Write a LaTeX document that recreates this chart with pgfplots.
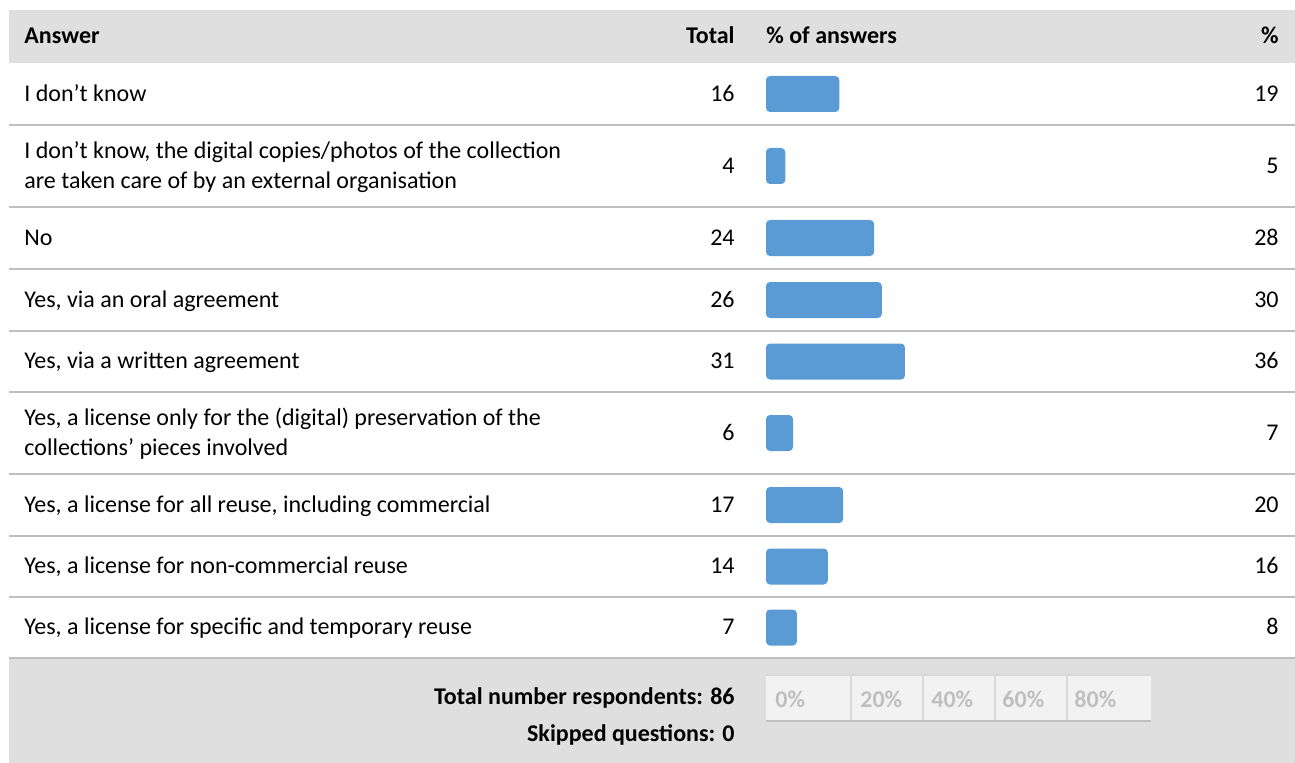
\documentclass[border=0pt]{standalone}
\usepackage{pgfplots}
\pgfplotsset{compat=1.18}
\usepackage{pgfplotstable}
\usepackage{fontspec}
\setmainfont{Carlito}
\definecolor{hdr}{HTML}{DFDFDF}
\definecolor{sep}{HTML}{BFBFBF}
\definecolor{barblue}{HTML}{5B9BD5}
\definecolor{boxfill}{HTML}{F2F2F2}
\definecolor{boxline}{HTML}{D9D9D9}
\definecolor{ticktext}{HTML}{BFBFBF}

% y = row centre (pixel position of row), pct = % of answers
\pgfplotstableread{
y pct
94 19
166 5
238 28
300 30
361.5 36
433 7
505 20
566.5 16
627.5 8
}\bars

\begin{document}
\fontsize{12pt}{15pt}\selectfont%
\begin{tikzpicture}[x=0.5pt,y=-0.5pt,every node/.style={inner sep=0pt}]
\useasboundingbox (0,0) rectangle (1295,763);
% header and footer bands
\fill[hdr] (9,10) rectangle (1295,63);
\fill[hdr] (9,658) rectangle (1295,763);
\foreach \yy in {125,207,269,331,392,474,536,597}
  \draw[sep, line width=0.75pt] (9,\yy) -- (1295,\yy);
\draw[sep, line width=0.75pt] (9,658) -- (1295,658);
% header
\node[anchor=base west, font=\bfseries] at (24,44) {Answer};
\node[anchor=base east, font=\bfseries] at (735,44) {Total};
\node[anchor=base west, font=\bfseries] at (766,44) {\% of answers};
\node[anchor=base east, font=\bfseries] at (1279,44) {\%};
% rows
\node[anchor=base west] at (24,101.5) {I don’t know};
\node[anchor=base west] at (24,159) {I don’t know, the digital copies/photos of the collection};
\node[anchor=base west] at (24,188.5) {are taken care of by an external organisation};
\node[anchor=base west] at (24,245.5) {No};
\node[anchor=base west] at (24,307.5) {Yes, via an oral agreement};
\node[anchor=base west] at (24,369) {Yes, via a written agreement};
\node[anchor=base west] at (24,425.5) {Yes, a license only for the (digital) preservation of the};
\node[anchor=base west] at (24,455.5) {collections’ pieces involved};
\node[anchor=base west] at (24,512.5) {Yes, a license for all reuse, including commercial};
\node[anchor=base west] at (24,574) {Yes, a license for non-commercial reuse};
\node[anchor=base west] at (24,635) {Yes, a license for specific and temporary reuse};
% totals
\foreach \b/\t in {101.5/16,173.5/4,245.5/24,307.5/26,369/31,440.5/6,512.5/17,574/14,635/7}
  \node[anchor=base east] at (735,\b) {\t};
% percentages
\foreach \b/\t in {101.5/19,173.5/5,245.5/28,307.5/30,369/36,440.5/7,512.5/20,574/16,635/8}
  \node[anchor=base east] at (1279,\b) {\t};
% footer
\node[anchor=base east, font=\bfseries] at (735,704.5) {Total number respondents: 86};
\node[anchor=base east, font=\bfseries] at (735,741.5) {Skipped questions: 0};
\fill[boxfill] (766,675) rectangle (1151,721);
\draw[boxline, line width=0.75pt] (766,675) -- (1151,675);
\foreach \xx in {851,923,995,1067}
  \draw[boxline, line width=0.75pt] (\xx,675) -- (\xx,721);
\draw[sep, line width=1.2pt] (766,721) -- (1151,721);
\foreach \xx/\t in {775/0,860/20,931/40,1002/60,1074/80}
  \node[anchor=base west, font=\bfseries, text=ticktext] at (\xx,707.5) {\t\%};
% bars
\begin{axis}[at={(383pt,-329pt)}, anchor=south west, scale only axis,
  width=193pt, height=297.5pt, xmin=0, xmax=100, ymin=63, ymax=658,
  y dir=reverse, hide axis, clip=false, xbar, bar width=18pt]
\addplot[fill=barblue, draw=none, rounded corners=2pt] table[x=pct,y=y]{\bars};
\end{axis}
\end{tikzpicture}
\end{document}
